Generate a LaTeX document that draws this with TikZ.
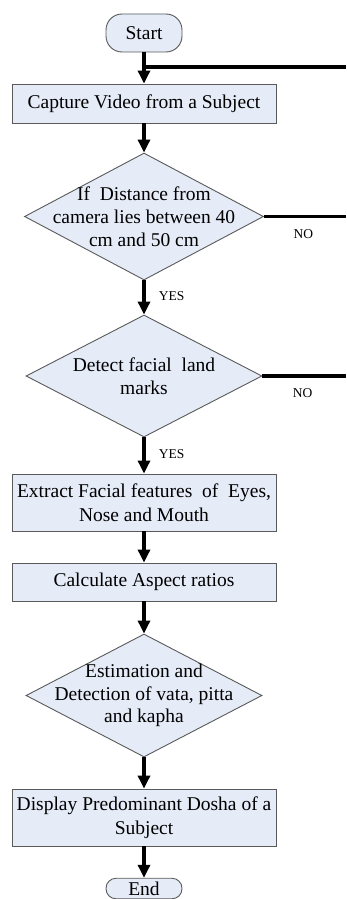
\documentclass[tikz,border=0pt]{standalone}
\usepackage{fontspec}
\setmainfont{Liberation Serif}
\usetikzlibrary{shapes.geometric,arrows.meta}
\definecolor{boxfill}{HTML}{E5EBF7}
\definecolor{boxline}{HTML}{5A5A5A}
\begin{document}
\begin{tikzpicture}[x=1pt,y=-1pt,
  every node/.style={font=\fontsize{19.5}{23.5}\selectfont},
  procbox/.style={draw=boxline,fill=boxfill,line width=0.9pt,rectangle,minimum width=264pt,inner sep=1pt,align=center},
  termbox/.style={draw=boxline,fill=boxfill,line width=0.9pt,rectangle,rounded corners=16pt,minimum width=76pt,minimum height=38pt,inner sep=1pt},
  decbox/.style={draw=boxline,fill=boxfill,line width=0.9pt,diamond,inner sep=0pt},
  flow/.style={line width=3.2pt,-{Triangle[length=13pt,width=12pt]}},
  plain/.style={line width=3.2pt},
  tag/.style={font=\fontsize{13.5}{16}\selectfont}]
\useasboundingbox (0,0) rectangle (346,899);
\clip (0,0) rectangle (346,899);
\node[termbox] (start) at (144,33) {Start};
\node[procbox,minimum height=39pt] (capture) at (144,103.5) {Capture Video from a Subject};
\node[decbox,minimum width=239pt,minimum height=127pt,
  label={[align=center,font=\fontsize{19.5}{23}\selectfont]center:If\ \ Distance from\\camera lies between 40\\cm and 50 cm}] (d1) at (144,216.5) {};
\node[decbox,minimum width=236pt,minimum height=122pt,
  label={[align=center,font=\fontsize{19.5}{22.5}\selectfont]center:Detect facial\ \ land\\marks}] (d2) at (144,376) {};
\node[procbox,minimum height=57pt] (extract) at (144,502.5) {Extract Facial features\ \ of\ \ Eyes,\\Nose and Mouth};
\node[procbox,minimum height=38pt] (calc) at (144,582) {Calculate Aspect ratios};
\node[decbox,minimum width=236pt,minimum height=123pt,
  label={[align=center,font=\fontsize{19.5}{22.5}\selectfont]center:Estimation and\\Detection of vata, pitta\\and kapha}] (d3) at (144,695.5) {};
\node[procbox,minimum height=57pt] (display) at (144,817.5) {Display Predominant Dosha of a\\Subject};
\node[termbox,minimum height=20.5pt,inner sep=0.5pt,rounded corners=10pt] (end) at (144,888.5) {End};
\coordinate (j) at (144,67);
\coordinate (r0) at (346,67);
\coordinate (r1) at (346,216.5);
\coordinate (r2) at (346,376);
\draw[flow] (start) -- (capture);
\draw[plain] (j) -- (r0);
\draw[flow] (capture) -- (d1);
\draw[flow] (d1) -- node[tag,right=10pt,pos=0.45] (yes1) {YES} (d2);
\draw[plain] (d1.east) -- node[tag,below=8pt,pos=0.48] (no1) {NO} (r1);
\draw[flow] (d2) -- node[tag,right=10pt,pos=0.45] (yes2) {YES} (extract);
\draw[plain] (d2.east) -- node[tag,below=8pt,pos=0.48] (no2) {NO} (r2);
\draw[flow] (extract) -- (calc);
\draw[flow] (calc) -- (d3);
\draw[flow] (d3) -- (display);
\draw[flow] (display) -- (end);
\end{tikzpicture}
\end{document}
